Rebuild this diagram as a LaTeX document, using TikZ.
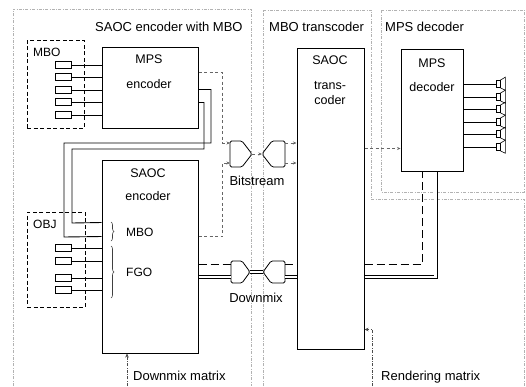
\documentclass[tikz,border=0pt]{standalone}
\usepackage{fontspec}
\setmainfont{Liberation Sans}
\usetikzlibrary{arrows.meta, positioning, calc, decorations.pathreplacing}
\tikzset{
  regionline/.style={draw=gray!60, line width=0.5pt,
    dash pattern=on 3pt off 1.5pt on 0.6pt off 1.5pt},
  regiontitle/.style={font=\fontsize{13}{15}\selectfont, anchor=base west, inner sep=0pt},
  groupbox/.style={draw, line width=0.9pt, dash pattern=on 4pt off 2.5pt, inner sep=0pt},
  grouplabel/.style={font=\fontsize{12}{14}\selectfont, anchor=base west, inner sep=0pt},
  codecblock/.style={draw, line width=1pt, inner sep=0pt},
  blocklabel/.style={font=\fontsize{12.5}{14}\selectfont, anchor=base, inner sep=0pt},
  srcbox/.style={draw, line width=0.8pt, minimum width=16pt, minimum height=6.5pt, inner sep=0pt},
  spkbox/.style={draw, line width=0.6pt, minimum width=4pt, minimum height=7pt, inner sep=0pt},
  sigline/.style={line width=0.9pt},
  paramline/.style={draw=gray!80!black, line width=0.6pt, dash pattern=on 3pt off 2.5pt},
  dmxline/.style={line width=0.9pt, dash pattern=on 8pt off 4pt},
  dmxdouble/.style={double, double distance=2.4pt, line width=0.8pt},
  convshape/.style={line width=0.8pt, rounded corners=1.5pt},
  paramtip/.style={-{Stealth[length=3.5pt, width=3pt]}},
  ctrlline/.style={draw=gray!60!black, line width=0.5pt,
    dash pattern=on 3pt off 1.5pt on 0.6pt off 1.5pt},
  ctrltip/.style={-{Stealth[length=4pt, width=3.5pt]}},
  sidelabel/.style={font=\fontsize{13}{15}\selectfont, anchor=base, inner sep=0pt},
}

\begin{document}
\begin{tikzpicture}[x=1pt, y=-1pt]
  \useasboundingbox (0,0) rectangle (526,386);

  % Regions
  \draw[regionline] (13,386) -- (13,9) -- (251,9) -- (251,386);
  \draw[regionline] (263,386) -- (263,10) -- (371,10) -- (371,199) -- (524,199) -- (524,386);
  \draw[regionline] (381,10) rectangle (524,192);
  \node[regiontitle] (enctitle) at (95,31) {SAOC encoder with MBO};
  \node[regiontitle] (trctitle) at (269,31) {MBO transcoder};
  \node[regiontitle] (dectitle) at (385,31) {MPS decoder};

  % MBO objects into MPS encoder
  \node[groupbox, minimum width=57pt, minimum height=88pt] (mbogrp) at (55.5,84) {};
  \node[grouplabel] (mbolbl) at (33,56) {MBO};
  \node[codecblock, minimum width=96pt, minimum height=81pt] (mpsenc) at (150,87.5) {};
  \node[blocklabel] (mpsenc1) at (149,63) {MPS};
  \node[blocklabel] (mpsenc2) at (149,88) {encoder};
  \foreach \i/\y in {1/65,2/77,3/90,4/102,5/115} {
    \node[srcbox] (mbo\i) at (63,\y) {};
    \draw[sigline] (mbo\i.east) -- (mbo\i -| mpsenc.west);
  }

  % OBJ objects into SAOC encoder
  \node[groupbox, minimum width=58pt, minimum height=95pt] (objgrp) at (56,259.5) {};
  \node[grouplabel] (objlbl) at (33,228) {OBJ};
  \node[codecblock, minimum width=96pt, minimum height=193pt] (saocenc) at (150,256.5) {};
  \node[blocklabel] (saocenc1) at (148,177) {SAOC};
  \node[blocklabel] (saocenc2) at (148,200) {encoder};
  \node[grouplabel] (mbotag) at (126,236) {MBO};
  \node[grouplabel] (fgotag) at (126,276) {FGO};
  \foreach \i/\y in {1/248,2/261,3/278,4/290} {
    \node[srcbox] (obj\i) at (63,\y) {};
    \draw[sigline] (obj\i.east) -- (obj\i -| saocenc.west);
  }
  \draw[decorate, decoration={brace, amplitude=3pt}, gray!50!black, line width=0.6pt]
    (111,222) -- (111,241);
  \draw[decorate, decoration={brace, amplitude=3pt}, gray!50!black, line width=0.6pt]
    (111,246) -- (111,298);

  % MPS encoder downmix into SAOC encoder
  \draw[sigline] ([yshift=-43pt]mpsenc.north east) -| (211,143) -| (64,237)
    -- ([yshift=-77pt]saocenc.north west);
  \draw[sigline] ([yshift=-56pt]mpsenc.north east) -| (204,149) -| (72,223)
    -- ([yshift=-63pt]saocenc.north west);

  % Bitstream
  \coordinate (bsL) at (252,154);
  \coordinate (bsR) at (262,154);
  \coordinate (bsLi1) at (230,143); \coordinate (bsLi2) at (230,163);
  \coordinate (bsRo1) at (285,143); \coordinate (bsRo2) at (285,163);
  \draw[convshape] (bsL) -- ++(-10,-13) -- ++(-12,0) -- ++(0,26) -- ++(12,0) -- cycle;
  \draw[convshape] (bsR) -- ++(10,-13) -- ++(13,0) -- ++(0,26) -- ++(-13,0) -- cycle;
  \draw[paramline, paramtip] (bsL) -- (bsR);
  \node[sidelabel] (bslbl) at (257,185) {Bitstream};
  \draw[paramline, paramtip] ([yshift=-26pt]mpsenc.north east) -- ++(24,0) |- (bsLi1);
  \draw[paramline, paramtip] ([yshift=-77pt]saocenc.north east) -- ++(24,0) |- (bsLi2);

  % SAOC transcoder
  \node[codecblock, minimum width=67pt, minimum height=301pt] (transc) at (330.5,198.5) {};
  \node[blocklabel] (transc1) at (330,64) {SAOC};
  \node[blocklabel] (transc2) at (330,89) {trans-};
  \node[blocklabel] (transc3) at (330,104) {coder};
  \draw[paramline, paramtip] (bsRo1) -- (bsRo1 -| transc.west);
  \draw[paramline, paramtip] (bsRo2) -- (bsRo2 -| transc.west);

  % Downmix
  \coordinate (dmL) at (250,272);
  \coordinate (dmR) at (263,272);
  \coordinate (dmLi1) at (231,264); \coordinate (dmLi2) at (231,277);
  \coordinate (dmRo1) at (285,264); \coordinate (dmRo2) at (285,277);
  \draw[convshape] (dmL) -- ++(-8,-11) -- ++(-11,0) -- ++(0,22) -- ++(11,0) -- cycle;
  \draw[convshape] (dmR) -- ++(8,-11) -- ++(14,0) -- ++(0,22) -- ++(-14,0) -- cycle;
  \draw[dmxdouble] (dmL) -- (dmR);
  \node[sidelabel] (dmlbl) at (256,302) {Downmix};
  \draw[dmxline] (dmLi1 -| saocenc.east) -- (dmLi1);
  \draw[dmxdouble] (dmLi2 -| saocenc.east) -- (dmLi2);
  \draw[dmxline] (dmRo1) -- (dmRo1 -| transc.west);
  \draw[dmxdouble] (dmRo2) -- (dmRo2 -| transc.west);

  % MPS decoder and loudspeakers
  \node[codecblock, minimum width=62pt, minimum height=122pt] (mpsdec) at (432,110) {};
  \node[blocklabel] (mpsdec1) at (432,67) {MPS};
  \node[blocklabel] (mpsdec2) at (432,91) {decoder};
  \draw[paramline, paramtip] ([yshift=-101pt]transc.north east) -- ([yshift=-100pt]mpsdec.north west);
  \draw[dmxline] (dmRo1 -| transc.east) -| ([xshift=22pt]mpsdec.south west);
  \draw[dmxdouble] (dmRo2 -| transc.east) -| ([xshift=35pt]mpsdec.south west);
  \foreach \i/\y in {1/84,2/97,3/109,4/122,5/134,6/147} {
    \node[spkbox] (spk\i) at (498,\y) {};
    \draw[line width=0.6pt] (spk\i.north east) -- ++(5,-3) -- ++(0,13) -- (spk\i.south east);
    \draw[sigline] (spk\i -| mpsdec.east) -- (spk\i.west);
  }

  % Matrices
  \coordinate (rendin) at (372,386);
  \draw[ctrlline, ctrltip] (rendin) |- ([yshift=-282pt]transc.north east);
  \node[sidelabel, anchor=base west] (rendlbl) at (381,380) {Rendering matrix};
  \coordinate (dmxin) at (127,386);
  \draw[ctrlline, ctrltip] (dmxin) -- (dmxin |- saocenc.south);
  \node[sidelabel, anchor=base west] (dmxlbl) at (133,380) {Downmix matrix};
\end{tikzpicture}
\end{document}
